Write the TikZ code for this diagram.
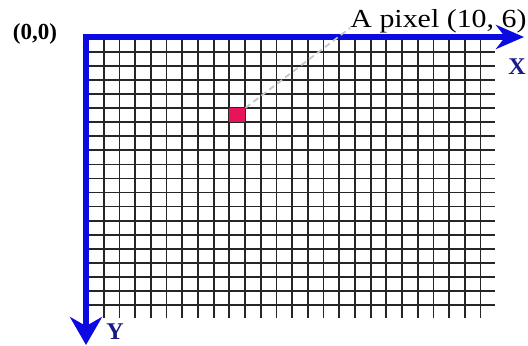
\documentclass[tikz,border=0pt]{standalone}
\usepackage{fontspec}
\setmainfont{Liberation Serif}
\usetikzlibrary{arrows.meta,positioning}
\definecolor{axisblue}{RGB}{10,10,225}
\definecolor{labelnavy}{RGB}{25,25,135}
\definecolor{pixelred}{RGB}{232,20,88}

\begin{document}
\begin{tikzpicture}[x=0.5pt,y=-0.5pt,gridline/.style={line width=0.9pt,black!85},axis/.style={line width=2.8pt,axisblue},pixel/.style={rectangle,fill=pixelred,minimum width=7.85pt,minimum height=7pt,inner sep=0pt},leader/.style={densely dashed,line width=0.9pt,gray!45},every node/.style={inner sep=0pt}]
\useasboundingbox (0,0) rectangle (528,346);
\foreach \i in {0,...,25}
  \draw[gridline] ({88+15.7*\i},38) -- ({88+15.7*\i},318);
\foreach \j in {0,...,19}
  \draw[gridline] (88,{38+14.05*\j}) -- (495,{38+14.05*\j});
\coordinate (O) at (86,37);
\coordinate (xend) at (524,37);
\coordinate (yend) at (86,345);
\draw[axis,-{Stealth[length=14pt,width=12pt]}] ([xshift=-1.4pt]O) -- (xend);
\draw[axis,-{Stealth[length=14pt,width=16pt]}] ([yshift=1.4pt]O) -- (yend);
\node[pixel] (px) at (237.2,115.3) {};
\node[font=\fontsize{13}{15}\selectfont,anchor=base west,xscale=1.15] (lbl) at (350,28) {A pixel (10, 6)};
\draw[leader] (px.north east) -- (lbl.base west);
\node[font=\bfseries\fontsize{11.5}{13}\selectfont] (orig) at (35,34) {(0,0)};
\node[font=\bfseries\fontsize{12}{14}\selectfont,text=labelnavy] (xlbl) at (517,67) {X};
\node[font=\bfseries\fontsize{12}{14}\selectfont,text=labelnavy] (ylbl) at (115,332) {Y};
\end{tikzpicture}
\end{document}
